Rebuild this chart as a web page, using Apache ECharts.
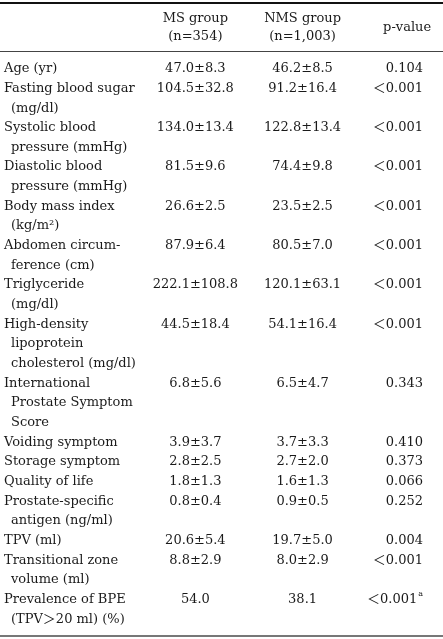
<!DOCTYPE html>
<html>
<head>
<meta charset="utf-8">
<script src="https://cdn.jsdelivr.net/npm/echarts@6/dist/echarts.min.js"></script>
<style>
html,body{margin:0;padding:0;background:#fff;}
#chart{width:443px;height:639px;}
</style>
</head>
<body>
<div id="chart"></div>
<script>
// ---- data ----
const headerMS = ["MS group", "(n=354)"];
const headerNMS = ["NMS group", "(n=1,003)"];
const headerP = "p-value";
const rowLabels = [
  ["Age (yr)"],
  ["Fasting blood sugar", "(mg/dl)"],
  ["Systolic blood", "pressure (mmHg)"],
  ["Diastolic blood", "pressure (mmHg)"],
  ["Body mass index", "(kg/m²)"],
  ["Abdomen circum-", "ference (cm)"],
  ["Triglyceride", "(mg/dl)"],
  ["High-density", "lipoprotein", "cholesterol (mg/dl)"],
  ["International", "Prostate Symptom", "Score"],
  ["Voiding symptom"],
  ["Storage symptom"],
  ["Quality of life"],
  ["Prostate-specific", "antigen (ng/ml)"],
  ["TPV (ml)"],
  ["Transitional zone", "volume (ml)"],
  ["Prevalence of BPE", "(TPV＞20 ml) (%)"]
];
const msValues = ["47.0±8.3", "104.5±32.8", "134.0±13.4", "81.5±9.6", "26.6±2.5", "87.9±6.4",
  "222.1±108.8", "44.5±18.4", "6.8±5.6", "3.9±3.7", "2.8±2.5", "1.8±1.3", "0.8±0.4",
  "20.6±5.4", "8.8±2.9", "54.0"];
const nmsValues = ["46.2±8.5", "91.2±16.4", "122.8±13.4", "74.4±9.8", "23.5±2.5", "80.5±7.0",
  "120.1±63.1", "54.1±16.4", "6.5±4.7", "3.7±3.3", "2.7±2.0", "1.6±1.3", "0.9±0.5",
  "19.7±5.0", "8.0±2.9", "38.1"];
const pValues = ["0.104", "＜0.001", "＜0.001", "＜0.001", "＜0.001", "＜0.001", "＜0.001",
  "＜0.001", "0.343", "0.410", "0.373", "0.066", "0.252", "0.004", "＜0.001", "＜0.001"];
const pFootnotes = ["", "", "", "", "", "", "", "", "", "", "", "", "", "", "", "a"];

// ---- layout ----
const FONT = '"DejaVu Serif", "Noto Sans CJK JP", serif';
const TEXT = '#1a1a1a';
const colX = {label: 0.9, ms: 44.1, nms: 68.3, pRight: 95.5, pHead: 91.9};
const headerRows = {first: -2.55, second: -1.62, mid: -2.08};
const rules = [
  {y: -3.37, width: 2, color: '#111'},
  {y: -0.87, width: 1, color: '#444'},
  {y: 28.86, width: 2, color: '#777'}
];

function item(x, y, text, align, extra) {
  return Object.assign({
    name: text,
    value: [x, y],
    label: {align: align}
  }, extra || {});
}

const points = [];
// header
headerMS.forEach((t, i) => points.push(item(colX.ms, i === 0 ? headerRows.first : headerRows.second, t, 'center')));
headerNMS.forEach((t, i) => points.push(item(colX.nms, i === 0 ? headerRows.first : headerRows.second, t, 'center')));
points.push(item(colX.pHead, headerRows.mid, headerP, 'center'));

// body
let line = 0;
rowLabels.forEach((lines, r) => {
  lines.forEach((t, k) => {
    points.push(item(colX.label, line + k, t, 'left', k > 0 ? {label: {align: 'left', padding: [0, 0, 0, 7]}} : null));
  });
  points.push(item(colX.ms, line, msValues[r], 'center'));
  points.push(item(colX.nms, line, nmsValues[r], 'center'));
  const fn = pFootnotes[r];
  points.push({
    name: pValues[r],
    value: [colX.pRight, line],
    label: {align: 'right', formatter: fn ? pValues[r] + '{sup|' + fn + '}' : pValues[r]}
  });
  line += lines.length;
});

const chart = echarts.init(document.getElementById('chart'), null, {renderer: 'canvas'});
chart.setOption({
  animation: false,
  backgroundColor: '#fff',
  grid: {left: 0, right: 0, top: 0, bottom: 0},
  xAxis: {type: 'value', min: 0, max: 100, show: false},
  yAxis: {type: 'value', min: -3.5, max: 29, inverse: true, show: false},
  series: [{
    type: 'scatter',
    silent: true,
    symbolSize: 0,
    itemStyle: {opacity: 1},
    data: points,
    label: {
      show: true,
      position: [0, 0],
      verticalAlign: 'middle',
      formatter: '{b}',
      fontFamily: FONT,
      fontSize: 13,
      lineHeight: 20,
      color: TEXT,
      rich: {
        sup: {fontFamily: FONT, fontSize: 8, lineHeight: 9, color: TEXT, verticalAlign: 'top', padding: [0, 0, 0, 1]}
      }
    },
    markLine: {
      silent: true,
      symbol: 'none',
      label: {show: false},
      data: rules.map(r => ({yAxis: r.y, lineStyle: {width: r.width, color: r.color, type: 'solid'}}))
    }
  }]
});
</script>
</body>
</html>
